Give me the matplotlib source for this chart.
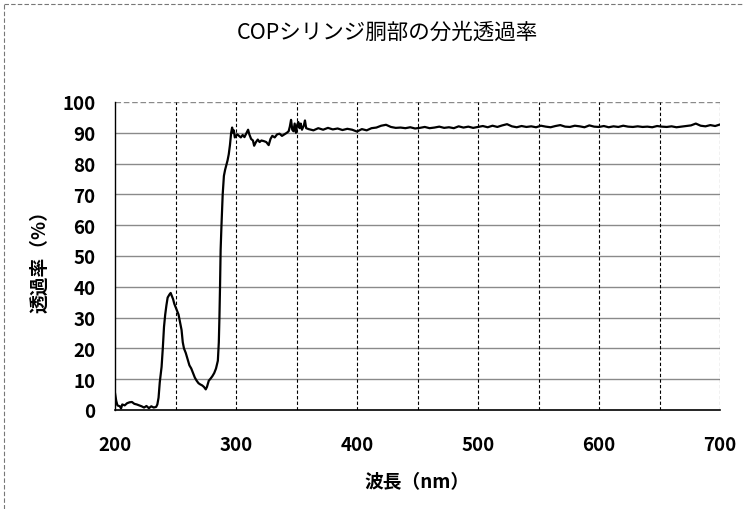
# -*- coding: utf-8 -*-
"""COPシリンジ胴部の分光透過率 (spectral transmittance chart)."""
import matplotlib
matplotlib.use("Agg")
import matplotlib.pyplot as plt
from matplotlib.lines import Line2D

plt.rcParams["font.family"] = ["Noto Sans CJK JP", "DejaVu Sans"]

TITLE = "COPシリンジ胴部の分光透過率"
XLABEL = "波長（nm）"
YLABEL = "透過率（%）"

# wavelength (nm) / transmittance (%)
wl_uv = [200, 201, 202, 204, 205, 206, 208, 210, 212, 214, 216, 218, 220, 222,
         224, 226, 228, 230, 232, 234, 235, 236, 237, 238.5, 239.5, 240.5,
         241.5, 242.5, 243.5, 245, 246, 247, 248, 249, 250, 251, 252.5, 254,
         255, 256, 257, 258.5, 260, 261.5, 263, 264.5, 266, 267.5, 269, 270.5,
         272, 273.5, 275, 276, 277.5, 279, 280.5, 282, 283.5, 285, 285.8,
         286.3, 286.8, 287.3, 288, 289, 290, 291, 292, 293, 294, 295, 296,
         296.8, 297.5, 298.2, 299, 300, 301, 302.5, 304, 305.5, 307, 308.5,
         310, 311, 312.5, 314, 315, 316.5, 318, 319.5, 321, 323, 325, 327,
         328.5, 330, 332, 334, 336, 338, 340, 342, 343.5, 344.5, 345.5, 346.5,
         347.5, 348.5, 349.5, 350.5, 351.5, 352.5, 353.5, 354.5, 356, 357, 358]
tr_uv = [5.5, 3.0, 1.5, 1.2, 0.5, 1.8, 1.5, 2.2, 2.5, 2.6, 2.0, 1.8, 1.5, 1.2,
         0.8, 1.3, 0.6, 1.2, 0.8, 1.0, 1.8, 4.0, 9.0, 14.0, 20.0, 27.0,
         31.0, 34.0, 36.5, 37.5, 38.0, 37.0, 36.0, 34.5, 33.5, 32.5, 31.0, 28.0,
         26.0, 22.0, 20.0, 18.5, 16.5, 14.5, 13.5, 12.0, 10.5, 9.5, 8.7, 8.3,
         8.0, 7.5, 6.7, 7.5, 9.5, 10.2, 11.0, 12.0, 13.5, 16.0, 22.0,
         30.0, 40.0, 52.0, 60.0, 70.0, 76.0, 78.0, 79.5, 81.0, 83.0, 86.0, 90.0,
         91.7, 90.0, 90.8, 88.5, 89.0, 89.5, 89.0, 88.5, 89.3, 88.6, 89.8,
         91.0, 89.5, 88.0, 87.5, 85.8, 87.0, 87.8, 87.0, 87.5, 87.3, 87.0, 86.0,
         88.0, 89.0, 88.5, 89.5, 89.7, 89.0, 89.5, 90.0, 90.5, 92.0, 94.2, 91.0,
         90.5, 93.0, 90.0, 92.5, 93.5, 91.5, 93.0, 91.0, 92.3, 94.0, 91.5]

wl_vis = [360, 364, 368, 372, 376, 380, 384, 388, 392, 396, 400, 404, 408, 412,
          416, 420, 424, 428, 432, 436, 440, 444, 448, 452, 456, 460, 464, 468,
          472, 476, 480, 484, 488, 492, 496, 500, 504, 508, 512, 516, 520, 524,
          528, 532, 536, 540, 544, 548, 552, 556, 560, 564, 568, 572, 576, 580,
          584, 588, 592, 596, 600, 604, 608, 612, 616, 620, 624, 628, 632, 636,
          640, 644, 648, 652, 656, 660, 664, 668, 672, 676, 680, 684, 688, 692,
          696, 700]
tr_vis = [91.2, 90.8, 91.5, 91.0, 91.6, 91.1, 91.4, 90.9, 91.3, 91.0, 90.4,
          91.2, 90.8, 91.5, 91.7, 92.3, 92.6, 91.9, 91.6, 91.7, 91.5, 91.8,
          91.4, 91.6, 91.9, 91.5, 91.7, 92.0, 91.6, 91.8, 91.5, 92.1, 91.7,
          92.0, 91.6, 91.9, 92.2, 91.8, 92.3, 91.9, 92.4, 92.8, 92.1, 91.8,
          92.2, 91.9, 92.1, 91.8, 92.3, 92.0, 91.8, 92.2, 92.5, 92.0, 91.9,
          92.3, 92.1, 91.8, 92.4, 92.0, 91.9, 92.2, 91.8, 92.1, 91.9, 92.3,
          92.0, 91.9, 92.1, 91.9, 92.0, 91.8, 92.2, 92.0, 91.9, 92.1, 91.8,
          92.0, 92.2, 92.4, 93.0, 92.3, 92.1, 92.5, 92.2, 92.7]

wl = wl_uv + wl_vis
tr = tr_uv + tr_vis

fig = plt.figure(figsize=(7.43, 5.10), dpi=100)
ax = fig.add_axes([115 / 743, 1 - 411 / 510, 605 / 743, 308 / 510])

# horizontal grid (gray solid), vertical grid (black dashed)
for y in range(10, 101, 10):
    ax.axhline(y, color="#8a8a8a", lw=1.0, zorder=1,
               ls=(0, (4, 2)) if y == 100 else "-")
for x in range(250, 701, 50):
    ax.axvline(x, color="black", lw=0.8, ls=(0, (3, 2)), zorder=1)

ax.plot(wl, tr, color="black", lw=1.6, zorder=3)

ax.set_xlim(200, 700)
ax.set_ylim(0, 100)
ax.set_xticks(range(200, 701, 100))
ax.set_yticks(range(0, 101, 10))
ax.tick_params(axis="x", labelsize=13.5, length=0, pad=18)
ax.tick_params(axis="y", labelsize=13.5, length=0, pad=14)
for lab in ax.get_xticklabels() + ax.get_yticklabels():
    lab.set_fontweight("bold")

for s in ("top", "right"):
    ax.spines[s].set_visible(False)
ax.spines["left"].set_linewidth(1.0)
ax.spines["bottom"].set_linewidth(1.2)

ax.set_xlabel(XLABEL, fontsize=13.5, fontweight="bold", labelpad=13)
ax.set_ylabel(YLABEL, fontsize=13.5, fontweight="bold", labelpad=9)

fig.text(0.522, 1 - 33 / 510, TITLE, fontsize=15.5, ha="center", va="center")

# outer chart-area border (dashed)
fig.add_artist(Line2D([4 / 743, 4 / 743], [0, 1 - 5 / 510], color="#777777",
                      lw=0.8, ls=(0, (4, 2))))
fig.add_artist(Line2D([4 / 743, 1], [1 - 5 / 510, 1 - 5 / 510],
                      color="#777777", lw=0.8, ls=(0, (4, 2))))

fig.savefig("out.png", dpi=100)
